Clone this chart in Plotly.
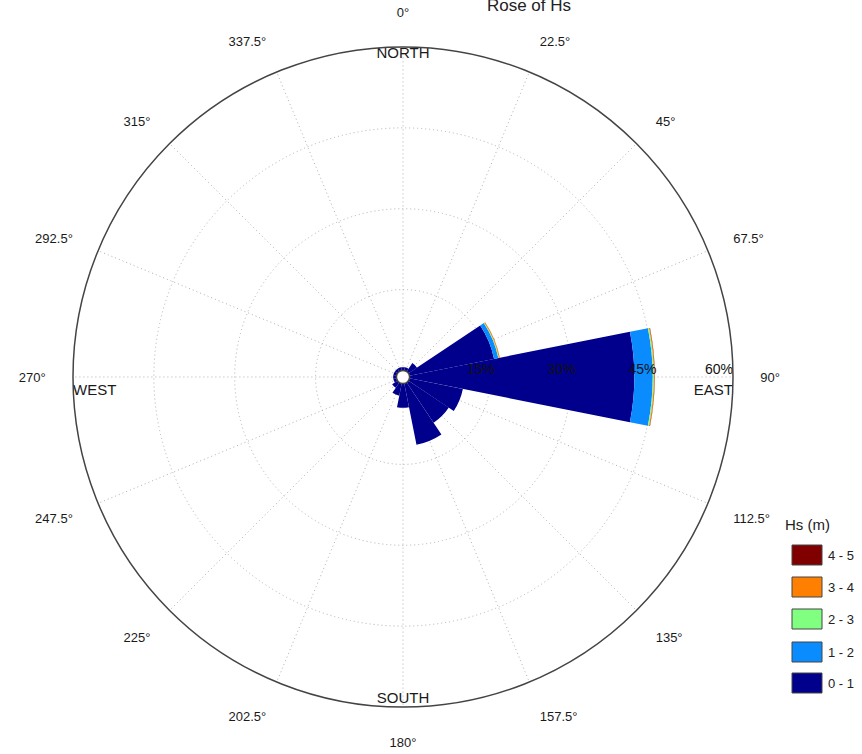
import plotly.graph_objects as go

# ---- data ----
directions = [0, 22.5, 45, 67.5, 90, 112.5, 135, 157.5, 180, 202.5, 225, 247.5, 270, 292.5, 315, 337.5]
bins = ["0 - 1", "1 - 2", "2 - 3", "3 - 4", "4 - 5"]
colors = ["#00008C", "#0A8CFF", "#80FF80", "#FF8000", "#800000"]

hs_0_1 = [0.6, 0.6, 1.9, 16.0, 41.7, 10.1, 9.0, 11.6, 4.5, 2.3, 1.2, 0.6, 0.6, 0.6, 0.6, 0.6]
hs_1_2 = [0, 0, 0, 0.8, 3.4, 0, 0, 0, 0, 0, 0, 0, 0, 0, 0, 0]
hs_2_3 = [0, 0, 0, 0.12, 0.2, 0, 0, 0, 0, 0, 0, 0, 0, 0, 0, 0]
hs_3_4 = [0, 0, 0, 0.15, 0.15, 0, 0, 0, 0, 0, 0, 0, 0, 0, 0, 0]
hs_4_5 = [0, 0, 0, 0.03, 0.05, 0, 0, 0, 0, 0, 0, 0, 0, 0, 0, 0]
series = [hs_0_1, hs_1_2, hs_2_3, hs_3_4, hs_4_5]

radial_ticks = [15, 30, 45, 60]
radial_labels = ["15%", "30%", "45%", "60%"]
angle_labels = [f"{d:g}°" for d in directions]
compass = ["NORTH", "EAST", "SOUTH", "WEST"]
compass_theta = [0, 91.2, 180, 268.8]

FONT = "Liberation Sans, Arial, sans-serif"
W, H = 862, 754

fig = go.Figure()
for name, vals, col in zip(bins, series, colors):
    fig.add_trace(go.Barpolar(
        r=vals, theta=directions, width=[22.5] * len(directions), name=name,
        marker=dict(color=col, line=dict(width=0)), showlegend=False,
    ))

# compass words inside the rim
fig.add_trace(go.Scatterpolar(
    r=[60] * 4, theta=compass_theta, mode="text", text=compass,
    textposition=["bottom center", "bottom left", "top center", "bottom right"],
    textfont=dict(family=FONT, size=15, color="#1a1a1a"), showlegend=False, hoverinfo="skip",
    cliponaxis=False,
))
# radial (percentage) labels along the east axis, drawn above bars
fig.add_trace(go.Scatterpolar(
    r=[min(t + 0.8, 60) for t in radial_ticks], theta=[90] * len(radial_ticks), mode="text",
    text=radial_labels, textposition="top left",
    textfont=dict(family=FONT, size=14, color="#111"), showlegend=False, hoverinfo="skip",
    cliponaxis=False,
))

cx, cy, R = 403, 377, 330
fig.update_layout(
    width=W, height=H, margin=dict(l=0, r=0, t=0, b=0),
    paper_bgcolor="white", plot_bgcolor="white",
    font=dict(family=FONT, size=13, color="#222"),
    title=dict(text="Rose of Hs", x=529 / W, xanchor="center", y=1 - 5 / H, yanchor="middle",
               yref="container", xref="container", font=dict(size=17, color="#222")),
    polar=dict(
        domain=dict(x=[(cx - R) / W, (cx + R) / W], y=[1 - (cy + R) / H, 1 - (cy - R) / H]),
        bgcolor="white", hole=0.02, barmode="stack",
        angularaxis=dict(
            rotation=90, direction="clockwise", tickmode="array",
            tickvals=directions, ticktext=angle_labels,
            showline=True, linecolor="#444", linewidth=1.5,
            showgrid=True, gridcolor="#b0b0b0", griddash="1px,3px", gridwidth=1.3,
            ticks="outside", ticklen=24, tickcolor="rgba(0,0,0,0)",
            tickfont=dict(family=FONT, size=13, color="#1a1a1a"),
        ),
        radialaxis=dict(
            range=[0, 60], angle=0, tickmode="array", tickvals=radial_ticks,
            showticklabels=False, showline=False, ticks="", showgrid=True,
            gridcolor="#b0b0b0", griddash="1px,3px", gridwidth=1.3,
        ),
    ),
)

# legend built from bins/colors (large swatches)
shapes, annotations = [], []
annotations.append(dict(text="Hs (m)", x=807 / W, y=1 - 524 / H, xref="paper", yref="paper",
                        xanchor="center", yanchor="middle",
                        showarrow=False, font=dict(size=15, color="#222")))
ys = [683, 652, 619, 587, 555]
for lab, col, yc in zip(bins, colors, ys):
    shapes.append(dict(type="rect", xref="paper", yref="paper",
                       x0=792 / W, x1=822 / W, y0=1 - (yc + 10) / H, y1=1 - (yc - 10) / H,
                       fillcolor=col, line=dict(color="#444", width=1)))
    annotations.append(dict(text=lab, x=826 / W, y=1 - yc / H, xref="paper", yref="paper",
                            xanchor="left", yanchor="middle", showarrow=False,
                            font=dict(size=13, color="#222")))
fig.update_layout(shapes=shapes, annotations=annotations)

fig.write_html("out.html", config={"displayModeBar": False},
               post_script="document.body.style.margin='0px';")
